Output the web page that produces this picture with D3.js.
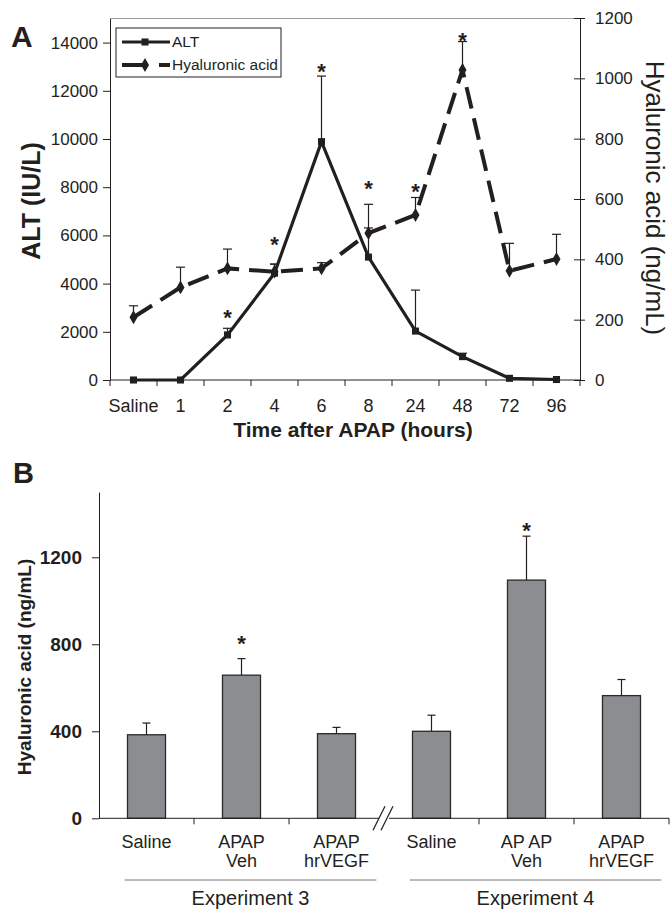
<!DOCTYPE html>
<html>
<head>
<meta charset="utf-8">
<script src="https://cdn.jsdelivr.net/npm/d3@7"></script>
<style>
  body { margin: 0; background: #fff; }
  svg { font-family: "Liberation Sans", Arial, sans-serif; }
</style>
</head>
<body>
<div id="chart"></div>
<script>
// ---- panel A data
const timeCats = ["Saline", "1", "2", "4", "6", "8", "24", "48", "72", "96"];
const altMean = [0, 0, 1870, 4430, 9890, 5100, 2030, 970, 70, 20];
const altErr = [0, 0, 275, 380, 2720, 2190, 1700, 140, 0, 0];
const haMean = [208, 307, 370, 359, 370, 487, 547, 1028, 362, 401];
const haErr = [38, 67, 64, 25, 19, 17, 58, 94, 91, 82];
// stars, height read in ALT units
const starCatsA = ["2", "4", "6", "8", "24", "48"];
const starHeightsA = [2820, 5850, 12990, 8170, 8010, 14310];
const altTicks = [0, 2000, 4000, 6000, 8000, 10000, 12000, 14000];
const haTicks = [0, 200, 400, 600, 800, 1000, 1200];

// ---- panel B data
const barLabels = [["Saline"], ["APAP", "Veh"], ["APAP", "hrVEGF"], ["Saline"], ["AP AP", "Veh"], ["APAP", "hrVEGF"]];
const barMean = [384, 658, 389, 400, 1095, 564];
const barErr = [54, 76, 29, 74, 202, 74];
const starB = [null, 827, null, null, 1345, null];
const experiments = ["Experiment 3", "Experiment 4"];
const bTicks = [0, 400, 800, 1200];

const ink = "#231f20";
const fmt = d3.format("d");

const svg = d3.select("#chart")
  .append("svg")
  .attr("width", 670)
  .attr("height", 909);

// ================= panel A =================
const xA = d3.scaleBand().domain(timeCats).range([110, 580]);
const yAlt = d3.scaleLinear().domain([0, 15000]).range([380, 18.5]);
const yHa = d3.scaleLinear().domain([0, 1200]).range([380, 18]);
const cx = c => xA(c) + xA.bandwidth() / 2;

// top border of plot area
svg.append("line")
  .attr("x1", 110).attr("x2", 580)
  .attr("y1", yAlt.range()[1]).attr("y2", yAlt.range()[1])
  .attr("stroke", "#9a9a9a").attr("stroke-width", 1);

// left axis
const gL = svg.append("g")
  .attr("transform", "translate(110,0)")
  .call(d3.axisLeft(yAlt).tickValues(altTicks).tickSize(7).tickSizeOuter(0).tickPadding(5).tickFormat(fmt));
gL.attr("font-size", 17).attr("font-family", null);
gL.selectAll("text").attr("fill", ink);
gL.selectAll("line, path").attr("stroke", ink);

// right axis (ticks cross the line)
const gR = svg.append("g")
  .attr("transform", "translate(580,0)")
  .call(d3.axisRight(yHa).tickValues(haTicks).tickSize(5).tickSizeOuter(0).tickPadding(10).tickFormat(fmt));
gR.attr("font-size", 17).attr("font-family", null);
gR.selectAll(".tick line").attr("x1", -6);
gR.selectAll("text").attr("fill", ink);
gR.selectAll("line, path").attr("stroke", ink);

// bottom axis: labels at band centres, ticks at band edges
const gB = svg.append("g")
  .attr("transform", "translate(0,380)")
  .call(d3.axisBottom(xA).tickSize(0).tickPadding(19));
gB.attr("font-size", 18).attr("font-family", null);
gB.select(".domain").remove();
gB.selectAll("text").attr("fill", ink);
gB.append("line")
  .attr("x1", 110).attr("x2", 580)
  .attr("stroke", ink).attr("stroke-width", 1);
gB.selectAll(".edge")
  .data(timeCats.map(c => xA(c)).concat([580]))
  .join("line")
  .attr("class", "edge")
  .attr("x1", d => d).attr("x2", d => d)
  .attr("y1", 0).attr("y2", 6)
  .attr("stroke", ink);

// axis titles
svg.append("text")
  .attr("transform", "translate(40,201) rotate(-90)")
  .attr("text-anchor", "middle")
  .attr("font-weight", "bold")
  .attr("font-size", 25)
  .attr("fill", ink)
  .text("ALT (IU/L)");
svg.append("text")
  .attr("transform", "translate(646,198) rotate(90)")
  .attr("text-anchor", "middle")
  .attr("font-size", 26)
  .attr("fill", ink)
  .text("Hyaluronic acid (ng/mL)");
svg.append("text")
  .attr("x", 353).attr("y", 437)
  .attr("text-anchor", "middle")
  .attr("font-weight", "bold")
  .attr("font-size", 21)
  .attr("fill", ink)
  .text("Time after APAP (hours)");

// error bars (upper only)
function errBars(g, means, errs, y) {
  const idx = d3.range(means.length).filter(i => errs[i] > 0);
  g.selectAll(null).data(idx).join("line")
    .attr("x1", i => cx(timeCats[i])).attr("x2", i => cx(timeCats[i]))
    .attr("y1", i => y(means[i])).attr("y2", i => y(means[i] + errs[i]))
    .attr("stroke", ink).attr("stroke-width", 1.2);
  g.selectAll(null).data(idx).join("line")
    .attr("x1", i => cx(timeCats[i]) - 4.5).attr("x2", i => cx(timeCats[i]) + 4.5)
    .attr("y1", i => y(means[i] + errs[i])).attr("y2", i => y(means[i] + errs[i]))
    .attr("stroke", ink).attr("stroke-width", 1.2);
}
const gErr = svg.append("g");
errBars(gErr, altMean, altErr, yAlt);
errBars(gErr, haMean, haErr, yHa);

// hyaluronic acid, dashed line
svg.append("path")
  .datum(haMean)
  .attr("fill", "none")
  .attr("stroke", ink)
  .attr("stroke-width", 4)
  .attr("stroke-dasharray", "22,10")
  .attr("d", d3.line().x((d, i) => cx(timeCats[i])).y(d => yHa(d)));

// ALT, solid line
svg.append("path")
  .datum(altMean)
  .attr("fill", "none")
  .attr("stroke", ink)
  .attr("stroke-width", 3.2)
  .attr("d", d3.line().x((d, i) => cx(timeCats[i])).y(d => yAlt(d)));

svg.selectAll(".sq")
  .data(altMean)
  .join("path")
  .attr("class", "sq")
  .attr("d", d3.symbol(d3.symbolSquare, 50))
  .attr("transform", (d, i) => `translate(${cx(timeCats[i])},${yAlt(d)})`)
  .attr("fill", ink);

svg.selectAll(".dm")
  .data(haMean)
  .join("path")
  .attr("class", "dm")
  .attr("d", d3.symbol(d3.symbolDiamond, 55))
  .attr("transform", (d, i) => `translate(${cx(timeCats[i])},${yHa(d)})`)
  .attr("fill", ink);

// significance stars
svg.selectAll(".starA")
  .data(starCatsA)
  .join("text")
  .attr("class", "starA")
  .attr("x", c => cx(c))
  .attr("y", (c, i) => yAlt(starHeightsA[i]))
  .attr("dy", "0.57em")
  .attr("text-anchor", "middle")
  .attr("font-weight", "bold")
  .attr("font-size", 22)
  .attr("fill", ink)
  .text("*");

// legend
const lg = svg.append("g");
lg.append("rect")
  .attr("x", 116).attr("y", 28).attr("width", 165).attr("height", 49)
  .attr("fill", "#fff").attr("stroke", ink).attr("stroke-width", 1);
lg.append("line")
  .attr("x1", 122).attr("x2", 170).attr("y1", 42).attr("y2", 42)
  .attr("stroke", ink).attr("stroke-width", 3.2);
lg.append("path")
  .attr("d", d3.symbol(d3.symbolSquare, 50))
  .attr("transform", "translate(145,42)")
  .attr("fill", ink);
lg.append("line")
  .attr("x1", 122).attr("x2", 170).attr("y1", 65).attr("y2", 65)
  .attr("stroke", ink).attr("stroke-width", 4)
  .attr("stroke-dasharray", "23,14");
lg.append("path")
  .attr("d", d3.symbol(d3.symbolDiamond, 55))
  .attr("transform", "translate(145,65)")
  .attr("fill", ink);
lg.selectAll(".lt")
  .data(["ALT", "Hyaluronic acid"])
  .join("text")
  .attr("x", 172)
  .attr("y", (d, i) => 47 + i * 23)
  .attr("font-size", 15.5)
  .attr("fill", ink)
  .text(d => d);

svg.append("text")
  .attr("x", 11).attr("y", 47)
  .attr("font-weight", "bold").attr("font-size", 30)
  .attr("fill", ink)
  .text("A");

// ================= panel B =================
const idxB = d3.range(barMean.length);
const xB = d3.scaleBand().domain(idxB).range([99, 669]);
const yB = d3.scaleLinear().domain([0, 1500]).range([818.3, 492]);
const bw = xB.bandwidth();
const bcx = i => xB(i) + bw / 2;

const gYB = svg.append("g")
  .attr("transform", "translate(99,0)")
  .call(d3.axisLeft(yB).tickValues(bTicks).tickSize(7).tickSizeOuter(0).tickPadding(10).tickFormat(fmt));
gYB.attr("font-size", 19).attr("font-family", null).attr("font-weight", "bold");
gYB.selectAll("text").attr("fill", ink);
gYB.selectAll("line, path").attr("stroke", ink);

svg.append("text")
  .attr("transform", "translate(31,667) rotate(-90)")
  .attr("text-anchor", "middle")
  .attr("font-weight", "bold")
  .attr("font-size", 19)
  .attr("fill", ink)
  .text("Hyaluronic acid (ng/mL)");

// bars
svg.selectAll(".bar")
  .data(barMean)
  .join("rect")
  .attr("class", "bar")
  .attr("x", (d, i) => xB(i) + bw * 0.3)
  .attr("width", bw * 0.4)
  .attr("y", d => yB(d))
  .attr("height", d => yB(0) - yB(d))
  .attr("fill", "#8c8d91")
  .attr("stroke", "#2a2a2a")
  .attr("stroke-width", 1.3);

// error bars
svg.selectAll(".ebB")
  .data(idxB)
  .join("line")
  .attr("class", "ebB")
  .attr("x1", bcx).attr("x2", bcx)
  .attr("y1", i => yB(barMean[i])).attr("y2", i => yB(barMean[i] + barErr[i]))
  .attr("stroke", ink).attr("stroke-width", 1.2);
svg.selectAll(".capB")
  .data(idxB)
  .join("line")
  .attr("class", "capB")
  .attr("x1", i => bcx(i) - 4).attr("x2", i => bcx(i) + 4)
  .attr("y1", i => yB(barMean[i] + barErr[i])).attr("y2", i => yB(barMean[i] + barErr[i]))
  .attr("stroke", ink).attr("stroke-width", 1.2);

svg.selectAll(".starB")
  .data(idxB.filter(i => starB[i] != null))
  .join("text")
  .attr("class", "starB")
  .attr("x", bcx)
  .attr("y", i => yB(starB[i]))
  .attr("dy", "0.57em")
  .attr("text-anchor", "middle")
  .attr("font-weight", "bold")
  .attr("font-size", 22)
  .attr("fill", ink)
  .text("*");

// x axis with break between experiments
const y0 = yB(0);
svg.append("line")
  .attr("x1", 99).attr("x2", 669).attr("y1", y0).attr("y2", y0)
  .attr("stroke", ink).attr("stroke-width", 1);
const brk = xB(3);
svg.append("rect")
  .attr("x", brk - 5).attr("y", y0 - 2).attr("width", 10).attr("height", 4)
  .attr("fill", "#fff");
[-5, 3].forEach(o => {
  svg.append("line")
    .attr("x1", brk + o - 6).attr("x2", brk + o + 6)
    .attr("y1", y0 + 12).attr("y2", y0 - 12)
    .attr("stroke", ink).attr("stroke-width", 1.2);
});
svg.selectAll(".tkB")
  .data(idxB.filter(i => i !== 0 && i !== 3).map(i => xB(i)).concat([669]))
  .join("line")
  .attr("class", "tkB")
  .attr("x1", d => d).attr("x2", d => d)
  .attr("y1", y0).attr("y2", y0 + 6)
  .attr("stroke", ink);

// category labels
const lab = svg.selectAll(".labB")
  .data(idxB)
  .join("text")
  .attr("class", "labB")
  .attr("text-anchor", "middle")
  .attr("font-size", 18)
  .attr("fill", ink);
lab.selectAll("tspan")
  .data(i => barLabels[i].map(t => ({ t, i })))
  .join("tspan")
  .attr("x", d => bcx(d.i))
  .attr("y", (d, k) => 848 + k * 19)
  .text(d => d.t);

// experiment groups
const groups = [[0, 2], [3, 5]];
svg.selectAll(".grpLine")
  .data(groups)
  .join("line")
  .attr("class", "grpLine")
  .attr("x1", g => xB(g[0]) + bw * 0.27)
  .attr("x2", g => xB(g[1]) + bw * 0.92)
  .attr("y1", 880).attr("y2", 880)
  .attr("stroke", "#777").attr("stroke-width", 1);
svg.selectAll(".grpText")
  .data(groups)
  .join("text")
  .attr("class", "grpText")
  .attr("x", g => (xB(g[0]) + bw * 0.27 + xB(g[1]) + bw * 0.92) / 2)
  .attr("y", 905)
  .attr("text-anchor", "middle")
  .attr("font-size", 20)
  .attr("fill", ink)
  .text((g, i) => experiments[i]);

svg.append("text")
  .attr("x", 13).attr("y", 483)
  .attr("font-weight", "bold").attr("font-size", 29)
  .attr("fill", ink)
  .text("B");
</script>
</body>
</html>
